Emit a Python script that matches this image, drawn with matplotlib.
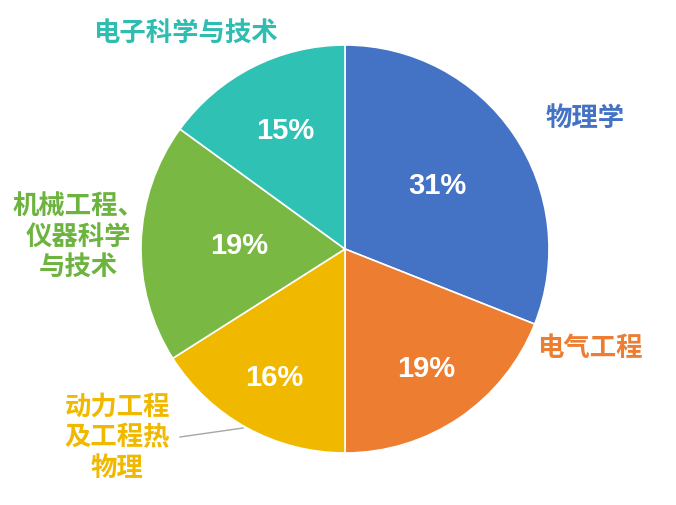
import numpy as np
import matplotlib
matplotlib.use("Agg")
import matplotlib.pyplot as plt

plt.rcParams['font.family'] = ['Noto Sans CJK SC', 'DejaVu Sans']

# data
labels = ["物理学", "电气工程", "动力工程\n及工程热\n物理", "机械工程、\n仪器科学\n与技术", "电子科学与技术"]
shares = [31, 19, 16, 19, 15]
colors = ["#4472C4", "#ED7D31", "#F1B800", "#78B843", "#2EC1B4"]
text_colors = ["#4472C4", "#ED7D31", "#F1B800", "#6DB33F", "#2EBDB0"]

# layout (pixel coords, y up)
W, H = 676, 505
cx, cy, R = 345, 256, 204
pct_r = [0.55, 0.71, 0.72, 0.52, 0.65]
label_xy = [(585, 387), (590, 157), (117, 67), (78, 268), (185, 472)]

fig = plt.figure(figsize=(W / 100, H / 100), dpi=100)
ax = fig.add_axes([0, 0, 1, 1])

wedges, _ = ax.pie(shares, colors=colors, startangle=90, counterclock=False,
                   center=(cx, cy), radius=R, frame=True,
                   wedgeprops=dict(edgecolor='white', linewidth=1.2))
ax.set_xlim(0, W)
ax.set_ylim(0, H)
ax.set_aspect('equal')
ax.axis('off')

for w, v, r in zip(wedges, shares, pct_r):
    ang = np.deg2rad((w.theta1 + w.theta2) / 2)
    ax.text(cx + R * r * np.cos(ang), cy + R * r * np.sin(ang), f"{v}%",
            ha='center', va='center', color='white', fontsize=21, fontweight='bold',
            family=['Liberation Sans', 'DejaVu Sans'])

for lab, (x, y), c in zip(labels, label_xy, text_colors):
    ax.text(x, y, lab, ha='center', va='center', color=c, fontsize=19,
            fontweight='bold', linespacing=1.17)

# leader line for the yellow slice
ax.plot([180, 243], [H - 437, H - 428], color='#A6A6A6', linewidth=1)

fig.savefig("out.png", dpi=100, facecolor='white')
